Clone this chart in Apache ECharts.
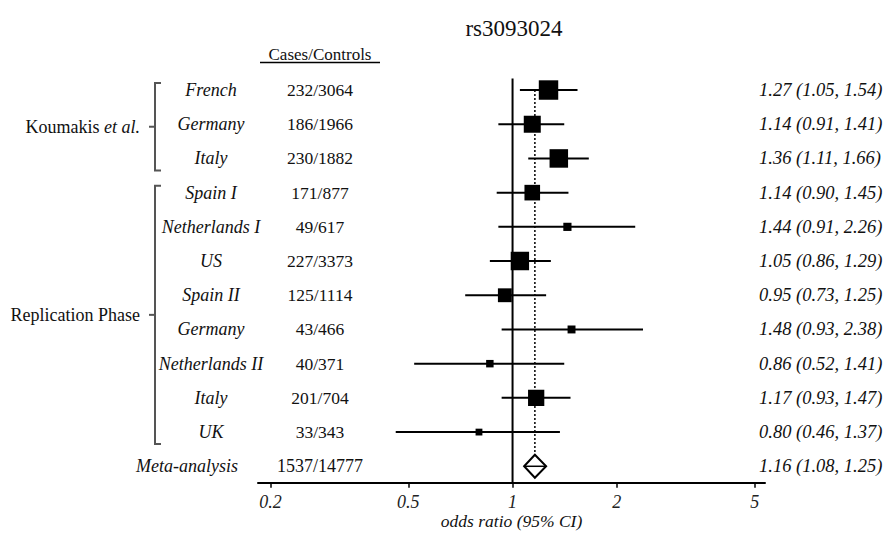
<!DOCTYPE html>
<html>
<head>
<meta charset="utf-8">
<script src="https://cdn.jsdelivr.net/npm/echarts@6/dist/echarts.min.js"></script>
<style>
    html, body { margin: 0; background: #fff; }
    #chart { width: 885px; height: 533px; }
</style>
</head>
<body>
<div id="chart"></div>
<script>
// study rows
var studies = ['French', 'Germany', 'Italy', 'Spain I', 'Netherlands I', 'US', 'Spain II', 'Germany', 'Netherlands II', 'Italy', 'UK'];
var casesControls = ['232/3064', '186/1966', '230/1882', '171/877', '49/617', '227/3373', '125/1114', '43/466', '40/371', '201/704', '33/343'];
var oddsRatio = [1.27, 1.14, 1.36, 1.14, 1.44, 1.05, 0.95, 1.48, 0.86, 1.17, 0.80];
var ciLower = [1.05, 0.91, 1.11, 0.90, 0.91, 0.86, 0.73, 0.93, 0.52, 0.93, 0.46];
var ciUpper = [1.54, 1.41, 1.66, 1.45, 2.26, 1.29, 1.25, 2.38, 1.41, 1.47, 1.37];

// pooled estimate
var metaName = 'Meta-analysis';
var metaCases = '1537/14777';
var metaOR = 1.16;
var metaLower = 1.08;
var metaUpper = 1.25;

// groups (rich text label, first row, last row)
var groupLabels = ['Koumakis {i|et al.}', 'Replication Phase'];
var groupFirst = [0, 3];
var groupLast = [2, 10];

var tickValues = [0.2, 0.5, 1, 2, 5];

var SERIF = '"Liberation Serif", "Times New Roman", serif';
var INK = '#111';
var yMin = -0.34, yMax = 11.48;

var chart = echarts.init(document.getElementById('chart'), null, { renderer: 'svg' });

function ln(v) { return Math.log(v); }

function fmtCI(or, lo, hi) {
    return or.toFixed(2) + ' (' + lo.toFixed(2) + ', ' + hi.toFixed(2) + ')';
}

function txt(x, y, text, font, align) {
    return {
        type: 'text',
        style: {
            x: x, y: y, text: text, font: font, fill: INK,
            align: align, verticalAlign: 'middle',
            textAlign: align, textVerticalAlign: 'middle'
        }
    };
}

var studyData = studies.map(function (s, i) {
    var se = (ln(ciUpper[i]) - ln(ciLower[i])) / 3.92;
    return [i, ln(oddsRatio[i]), ln(ciLower[i]), ln(ciUpper[i]), 1 / (se * se)];
});

var rowCount = studies.length;

var option = {
    animation: false,
    backgroundColor: '#fff',
    grid: { left: 258, width: 507, top: 78.4, height: 404.3, containLabel: false, outerBoundsMode: 'none' },
    xAxis: {
        type: 'value',
        min: -1.692,
        max: 1.678,
        splitLine: { show: false },
        axisLine: { show: true, onZero: false, lineStyle: { color: '#000', width: 2 } },
        axisTick: {
            show: true, length: 5, customValues: tickValues.map(ln),
            lineStyle: { color: '#000', width: 1.5 }
        },
        axisLabel: {
            customValues: tickValues.map(ln),
            margin: 10,
            color: '#222',
            fontFamily: SERIF,
            fontStyle: 'italic',
            fontSize: 18,
            formatter: function (v) {
                for (var k = 0; k < tickValues.length; k++) {
                    if (Math.abs(ln(tickValues[k]) - v) < 1e-6) return String(tickValues[k]);
                }
                return '';
            }
        },
        name: 'odds ratio (95% CI)',
        nameLocation: 'middle',
        nameGap: 29,
        nameMoveOverlap: false,
        nameTextStyle: { color: INK, fontFamily: SERIF, fontStyle: 'italic', fontSize: 17.5, lineHeight: 18 }
    },
    yAxis: {
        type: 'value', inverse: true, min: yMin, max: yMax, show: false
    },
    graphic: [
        { type: 'text', x: 514, y: 28, style: { text: 'rs3093024', font: '23px ' + SERIF, fill: INK, align: 'center', verticalAlign: 'middle', textAlign: 'center', textVerticalAlign: 'middle' } },
        { type: 'text', x: 320, y: 54, style: { text: 'Cases/Controls', font: '17px ' + SERIF, fill: INK, align: 'center', verticalAlign: 'middle', textAlign: 'center', textVerticalAlign: 'middle' } },
        { type: 'line', shape: { x1: 260, y1: 62.5, x2: 380, y2: 62.5 }, style: { stroke: '#000', lineWidth: 1.5 } }
    ],
    series: [
        {
            // null line at OR = 1
            type: 'custom',
            data: [[0]],
            encode: { x: 0 },
            z: 1,
            renderItem: function (params, api) {
                var a = api.coord([0, yMin]);
                var b = api.coord([0, yMax]);
                return { type: 'line', shape: { x1: a[0], y1: a[1], x2: b[0], y2: b[1] }, style: { stroke: '#000', lineWidth: 2 } };
            }
        },
        {
            // study estimates
            type: 'custom',
            data: studyData,
            encode: { x: [1, 2, 3], y: 0 },
            z: 3,
            renderItem: function (params, api) {
                var y = api.value(0);
                var p = api.coord([api.value(1), y]);
                var lo = api.coord([api.value(2), y]);
                var hi = api.coord([api.value(3), y]);
                var s = 1.9 * Math.sqrt(api.value(4));
                return {
                    type: 'group',
                    children: [
                        { type: 'line', shape: { x1: lo[0], y1: lo[1], x2: hi[0], y2: hi[1] }, style: { stroke: '#000', lineWidth: 2 } },
                        { type: 'rect', shape: { x: p[0] - s / 2, y: p[1] - s / 2, width: s, height: s }, style: { fill: '#000' } }
                    ]
                };
            }
        },
        {
            // pooled diamond and dotted line
            type: 'custom',
            data: [[rowCount, ln(metaOR), ln(metaLower), ln(metaUpper)]],
            encode: { x: [1, 2, 3], y: 0 },
            z: 2,
            renderItem: function (params, api) {
                var y = api.value(0);
                var c = api.coord([api.value(1), y]);
                var lo = api.coord([api.value(2), y]);
                var hi = api.coord([api.value(3), y]);
                var top = api.coord([api.value(1), 0]);
                var h = 11.5;
                return {
                    type: 'group',
                    children: [
                        { type: 'line', shape: { x1: c[0], y1: top[1], x2: c[0], y2: c[1] - h }, style: { stroke: '#000', lineWidth: 1.5, lineDash: [2, 2] } },
                        { type: 'polygon', shape: { points: [[lo[0], c[1]], [c[0], c[1] - h], [hi[0], c[1]], [c[0], c[1] + h]] }, style: { fill: '#fff', stroke: '#000', lineWidth: 2 } },
                        { type: 'line', shape: { x1: lo[0], y1: c[1], x2: hi[0], y2: c[1] }, style: { stroke: '#000', lineWidth: 1.5 } }
                    ]
                };
            }
        },
        {
            // table text columns
            type: 'custom',
            clip: false,
            data: studies.map(function (s, i) { return [0, i]; }).concat([[0, rowCount]]),
            encode: { y: 1 },
            renderItem: function (params, api) {
                var i = api.value(1);
                var y = api.coord([0, i])[1];
                if (i === rowCount) {
                    return {
                        type: 'group',
                        children: [
                            txt(187, y, metaName, 'italic 18px ' + SERIF, 'center'),
                            txt(320, y, metaCases, '18px ' + SERIF, 'center'),
                            txt(759, y, fmtCI(metaOR, metaLower, metaUpper), 'italic 18.5px ' + SERIF, 'left')
                        ]
                    };
                }
                return {
                    type: 'group',
                    children: [
                        txt(211, y, studies[i], 'italic 18px ' + SERIF, 'center'),
                        txt(320, y, casesControls[i], '17.5px ' + SERIF, 'center'),
                        txt(759, y, fmtCI(oddsRatio[i], ciLower[i], ciUpper[i]), 'italic 18.5px ' + SERIF, 'left')
                    ]
                };
            }
        },
        {
            // group braces
            type: 'custom',
            clip: false,
            data: groupLabels.map(function (g, k) { return [k, groupFirst[k], groupLast[k]]; }),
            encode: { y: [1, 2] },
            renderItem: function (params, api) {
                var k = api.value(0);
                var y1 = api.coord([0, api.value(1)])[1] - 7;
                var y2 = api.coord([0, api.value(2)])[1] + 12;
                var ym = (y1 + y2) / 2;
                var bx = 155;
                var st = { stroke: '#555', lineWidth: 2, fill: null };
                return {
                    type: 'group',
                    children: [
                        { type: 'polyline', shape: { points: [[bx + 6, y1], [bx, y1], [bx, y2], [bx + 6, y2]] }, style: st },
                        { type: 'line', shape: { x1: bx - 6, y1: ym, x2: bx, y2: ym }, style: st },
                        {
                            type: 'text',
                            style: {
                                x: 140, y: ym, text: groupLabels[k], font: '18px ' + SERIF, fill: INK,
                                align: 'right', verticalAlign: 'middle', textAlign: 'right', textVerticalAlign: 'middle',
                                rich: { i: { fontStyle: 'italic', fontFamily: SERIF, fontSize: 18, fill: INK, color: INK } }
                            }
                        }
                    ]
                };
            }
        }
    ]
};

chart.setOption(option);
</script>
</body>
</html>
